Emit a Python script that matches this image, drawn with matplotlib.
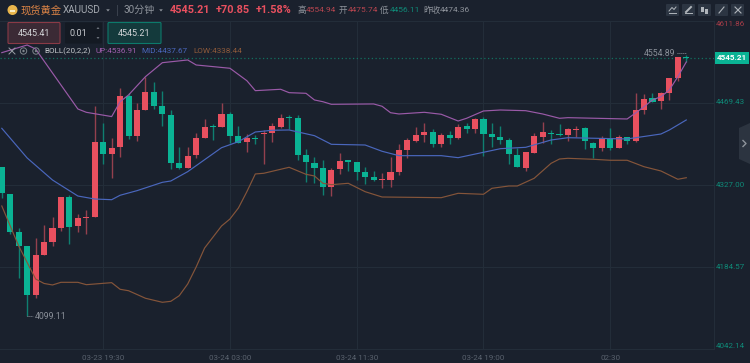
import matplotlib
matplotlib.use("Agg")
import numpy as np
import matplotlib.pyplot as plt
from matplotlib.patches import Circle, FancyBboxPatch, Polygon, Rectangle

plt.rcParams['font.family'] = ['Roboto', 'Noto Sans CJK SC', 'DejaVu Sans']

# candles, 30 min each, oldest first
opens = [4356.9,4310.5,4244.5,4219.7,4135.6,4204.0,4226.6,4251.5,4304.8,4254.9,
         4268.0,4270.0,4401.4,4380.0,4391.6,4480.7,4410.7,4455.9,4487.7,4463.9,
         4447.7,4364.9,4355.7,4378.3,4407.3,4428.1,4427.4,4450.0,4411.3,4400.3,
         4408.3,4414.7,4416.0,4427.4,4444.3,4442.5,4378.3,4364.9,4355.7,4323.2,
         4353.4,4367.8,4366.1,4348.2,4340.1,4334.8,4335.4,4348.2,4387.5,4402.1,
         4413.5,4418.2,4396.8,4413.5,4407.8,4428.6,4422.9,4440.3,4414.7,4409.0,
         4403.8,4378.3,4355.7,4382.3,4410.1,4416.0,4414.7,4412.5,4421.7,4424.6,
         4399.1,4389.9,4407.8,4389.9,4409.0,4402.1,4456.4,4476.8,4472.6,4486.5,
         4512.0,4548.0]
closes = [4311.7,4245.0,4220.7,4135.6,4204.6,4227.1,4251.5,4304.8,4253.7,4269.4,
          4269.4,4400.3,4380.0,4390.9,4480.7,4411.3,4455.9,4487.7,4463.9,4449.5,
          4364.9,4355.7,4376.0,4407.3,4427.4,4426.4,4450.0,4411.8,4399.6,4408.3,
          4406.1,4416.0,4428.6,4443.1,4442.5,4378.3,4366.6,4356.2,4323.2,4352.2,
          4367.3,4366.6,4348.2,4340.1,4334.8,4336.1,4348.2,4387.5,4403.8,4413.5,
          4418.2,4397.9,4413.5,4407.8,4427.4,4424.0,4440.3,4414.7,4409.0,4403.8,
          4380.0,4357.9,4383.0,4410.7,4417.7,4414.2,4412.5,4422.9,4422.9,4402.1,
          4390.4,4407.8,4390.9,4409.0,4402.1,4456.9,4476.1,4470.8,4486.5,4512.0,
          4549.0,4546.2]
highs = [4356.9,4310.5,4250.9,4219.7,4233.6,4256.7,4270.6,4304.8,4308.8,4275.8,
         4282.7,4463.9,4434.4,4407.3,4494.6,4486.5,4469.1,4513.2,4505.6,4488.9,
         4456.4,4391.6,4392.7,4416.0,4440.3,4432.1,4469.1,4452.4,4428.6,4414.7,
         4413.0,4421.7,4434.4,4449.5,4447.2,4447.2,4388.7,4374.3,4369.6,4355.2,
         4381.2,4369.6,4366.1,4357.9,4350.0,4346.5,4375.3,4397.4,4407.3,4426.4,
         4434.4,4422.9,4416.0,4420.5,4432.1,4434.4,4443.1,4443.8,4433.3,4428.6,
         4407.3,4389.9,4383.0,4416.0,4435.6,4421.7,4432.1,4425.7,4428.6,4427.4,
         4401.4,4411.3,4425.2,4413.0,4410.1,4485.4,4483.7,4486.5,4488.2,4512.0,
         4549.0,4552.0]
lows = [4304.1,4241.0,4164.1,4099.1,4129.4,4204.0,4220.2,4246.8,4224.2,4245.0,
        4241.0,4270.0,4362.6,4337.8,4375.3,4406.1,4403.1,4455.9,4458.2,4428.6,
        4353.4,4353.4,4355.7,4372.5,4407.3,4403.8,4427.4,4398.6,4398.6,4384.0,
        4397.9,4362.6,4400.3,4425.7,4423.4,4369.6,4330.8,4330.2,4308.3,4307.0,
        4345.3,4351.0,4334.8,4327.9,4333.6,4320.4,4322.2,4343.5,4373.6,4401.4,
        4401.4,4392.2,4392.7,4396.8,4406.1,4416.5,4416.0,4376.5,4392.7,4396.8,
        4362.6,4357.9,4351.0,4382.3,4399.6,4397.4,4411.3,4403.1,4410.1,4388.7,
        4373.6,4385.7,4386.4,4389.9,4397.4,4400.8,4449.5,4470.8,4458.2,4473.8,
        4507.3,4540.0]

# BOLL bands, read at the bends of each line
up_idx = [0,3,4,5,9,10,13,14,15,17,19,22,23,27,29,30,33,34,36,37,38,39,44,45,46,47,50,
          52,54,55,57,59,62,64,66,67,74,75,76,77,78,79,80,81]
up_val = [4556.0,4569.3,4562.4,4541.5,4458.2,4452.4,4445.0,4470.8,4482.5,4514.3,4538.6,
          4543.3,4534.6,4528.9,4507.3,4490.0,4492.4,4486.5,4485.4,4473.8,4470.8,4466.3,
          4466.9,4462.9,4451.7,4449.5,4452.4,4449.0,4437.3,4442.0,4454.7,4456.4,4455.2,
          4449.5,4442.0,4443.1,4440.8,4451.2,4462.2,4473.8,4479.5,4491.2,4514.3,4539.8]
mid_idx = [0,3,6,9,11,13,14,16,19,20,22,26,28,30,32,34,37,39,43,45,47,52,54,59,62,65,67,
           74,78,79,81]
mid_val = [4424.6,4373.1,4334.8,4307.0,4301.8,4300.6,4308.3,4316.3,4330.8,4333.1,4349.3,
           4390.9,4401.4,4418.2,4421.2,4421.7,4411.8,4396.8,4395.6,4384.7,4377.1,4377.1,
           4373.6,4389.2,4391.6,4404.3,4408.3,4406.1,4414.7,4421.7,4439.1]
low_idx = [0,2,4,5,6,7,9,10,13,14,15,17,19,20,21,22,23,24,26,27,28,29,30,31,34,36,37,38,
           39,41,43,45,52,54,57,58,60,61,63,65,66,67,70,72,74,76,78,80,81]
low_val = [4289.7,4220.2,4162.9,4155.1,4152.5,4157.1,4157.1,4153.0,4156.5,4145.0,4142.5,
           4129.4,4122.4,4124.1,4133.9,4154.2,4183.7,4216.7,4254.9,4267.1,4286.2,4314.5,
           4345.3,4346.5,4356.9,4344.7,4341.8,4329.1,4326.7,4329.1,4314.5,4305.3,4304.1,
           4311.7,4310.0,4320.4,4324.4,4324.4,4337.8,4363.8,4371.3,4372.5,4370.8,4369.1,
           4369.1,4357.9,4350.5,4336.1,4338.8]

y_ticks = [4042.14, 4184.57, 4327.00, 4469.43, 4611.86]
x_tick_pos = [12, 27, 42, 57, 72]
x_tick_labels = ['03-23 19:30', '03-24 03:00', '03-24 11:30', '03-24 19:00', '02:30']

BG = '#1a212d'
GRID = '#232d39'
RED = '#e8505f'
GREEN = '#0ab394'
PINK = '#9a5aa8'
BLUE = '#4a67bd'
BROWN = '#85553a'

fig = plt.figure(figsize=(7.5, 3.63), dpi=100, facecolor=BG)
ax = fig.add_axes([0, 14.5/363, 714/750, 328/363], facecolor=BG)

x = np.arange(len(opens))
o = np.array(opens)
c = np.array(closes)
colors = [RED if c[i] >= o[i] else GREEN for i in x]
wick_colors = ['#94404e' if c[i] >= o[i] else '#0f7f70' for i in x]

ax.vlines(x, lows, highs, colors=wick_colors, linewidth=1.0, zorder=2)
heights = np.maximum(np.abs(c - o), 2.2)
ax.bar(x, heights, bottom=np.minimum(o, c), width=0.72, color=colors, linewidth=0, zorder=3)

ax.plot(up_idx, up_val, color=PINK, lw=0.85, zorder=4)
ax.plot(mid_idx, mid_val, color=BLUE, lw=0.85, zorder=4)
ax.plot(low_idx, low_val, color=BROWN, lw=0.85, zorder=4)

# last price line
ax.axhline(closes[-1], color='#11705f', lw=0.9, ls=(0, (1, 2)), zorder=1)

# high / low marks
ax.plot([3, 3.75], [lows[3], lows[3]], color='#8a9099', lw=0.7, ls=(0, (1, 1)))
ax.text(3.85, lows[3] - 2, '4099.11', color='#8a9099', fontsize=6.3, va='center', ha='left')
ax.plot([79.9, 81], [4554.89, 4554.89], color='#8a9099', lw=0.7, ls=(0, (1, 1)))
ax.text(79.7, 4554.89, '4554.89', color='#8a9099', fontsize=6.3, va='center', ha='right')

ax.set_xlim(-0.213, 84.28)
ax.set_ylim(4042.14, 4611.86)
ax.set_xticks(x_tick_pos)
ax.set_xticklabels(x_tick_labels)
ax.set_yticks(y_ticks)
ax.set_yticklabels(['%.2f' % v for v in y_ticks])
ax.yaxis.tick_right()
ax.grid(True, color=GRID, lw=0.8, zorder=0)
ax.set_axisbelow(True)
ax.tick_params(axis='x', length=0, pad=4.5, labelsize=5.8, labelcolor='#59616d')
ax.tick_params(axis='y', length=0, pad=1.5, labelsize=5.8)
for lab, col, va in zip(ax.get_yticklabels(),
                        ['#0f8a78', '#0f8a78', '#0f8a78', '#0f8a78', '#a43c48'],
                        ['bottom', 'center', 'center', 'center', 'top']):
    lab.set_color(col)
    lab.set_va(va)
for name in ['top', 'left']:
    ax.spines[name].set_visible(False)
for name in ['right', 'bottom']:
    ax.spines[name].set_color(GRID)

# window chrome, in pixels
ui = fig.add_axes([0, 0, 1, 1], facecolor='none', zorder=5)
ui.set_xlim(0, 750)
ui.set_ylim(363, 0)
ui.axis('off')

ui.add_patch(Circle((12.5, 10), 5, color='#e9b64c', lw=0))
ui.add_patch(Rectangle((9.8, 9.5), 5.4, 2, color='#fbeec4', lw=0))
head = [(21, '现货黄金', '#dc8446', 7.4, 'normal'), (63, 'XAUUSD', '#a4a9b0', 7.2, 'normal'),
        (123, '30分钟', '#8f949c', 7.2, 'normal'), (170, '4545.21', RED, 7.8, 'bold'),
        (216, '+70.85', RED, 7.8, 'bold'), (256, '+1.58%', RED, 7.8, 'bold'),
        (297, '高', '#8f949c', 6.2, 'normal'), (306, '4554.94', '#b5454f', 6.0, 'normal'),
        (339, '开', '#8f949c', 6.2, 'normal'), (348, '4475.74', '#b5454f', 6.0, 'normal'),
        (380, '低', '#8f949c', 6.2, 'normal'), (390, '4456.11', '#0f8a78', 6.0, 'normal'),
        (423, '昨收', '#8f949c', 6.2, 'normal'), (440, '4474.36', '#8f949c', 6.0, 'normal')]
for px, txt, col, size, weight in head:
    ui.text(px, 10.3, txt, color=col, fontsize=size, fontweight=weight, va='center', ha='left')
ui.plot([117, 117], [5, 15], color='#3a424e', lw=0.7)
for px in [108, 161]:
    ui.add_patch(Polygon([(px-1.8, 9.3), (px+1.8, 9.3), (px, 11.5)], color='#8f949c', lw=0))

# toolbar buttons
for px in [666, 682, 698, 715, 731]:
    ui.add_patch(FancyBboxPatch((px+1, 5), 11, 10, boxstyle='round,pad=1', color='#2c3542', lw=0))
ui.plot([669, 676], [13, 13], color='#b0b5bb', lw=0.7)
ui.plot([669, 672, 674, 676], [11, 7.5, 9.5, 7], color='#b0b5bb', lw=0.7)
ui.plot([685, 692], [13, 13], color='#b0b5bb', lw=0.7)
ui.plot([686, 691], [12, 7], color='#b0b5bb', lw=1.4)
ui.add_patch(Rectangle((701, 7), 2.6, 5, color='#b0b5bb', lw=0))
ui.add_patch(Rectangle((705, 8.5), 2.6, 5, color='#b0b5bb', lw=0))
ui.plot([719, 724], [13, 7], color='#b0b5bb', lw=0.8)
ui.plot([735, 741], [7, 13], color='#b0b5bb', lw=0.8)
ui.plot([735, 741], [13, 7], color='#b0b5bb', lw=0.8)

# order buttons
ui.add_patch(FancyBboxPatch((9, 23.5), 50, 19, boxstyle='round,pad=1', fc='#3b2a35', ec='#8a3a46', lw=0.8))
ui.add_patch(FancyBboxPatch((66, 23.5), 35, 19, boxstyle='round,pad=1', fc='#141a23', ec='none'))
ui.add_patch(FancyBboxPatch((109, 23.5), 51, 19, boxstyle='round,pad=1', fc='#143a3c', ec='#0c7a6b', lw=0.8))
ui.text(33.5, 33, '4545.41', color='#d4d6d9', fontsize=6.5, va='center', ha='center')
ui.text(78, 33, '0.01', color='#c8cbd0', fontsize=6.5, va='center', ha='center')
ui.text(134, 33, '4545.21', color='#d4d6d9', fontsize=6.5, va='center', ha='center')
ui.add_patch(Polygon([(96.5, 29), (99.5, 29), (98, 27)], color='#6c727b', lw=0))
ui.add_patch(Polygon([(96.5, 37), (99.5, 37), (98, 39)], color='#6c727b', lw=0))

# indicator legend
ui.plot([9, 15], [48, 54], color='#9a9fa6', lw=0.7)
ui.plot([9, 15], [54, 48], color='#9a9fa6', lw=0.7)
for px in [23.5, 36]:
    ui.add_patch(Circle((px, 51), 3.2, fc='none', ec='#7f858d', lw=0.7))
    ui.add_patch(Circle((px, 51), 1.2, color='#7f858d', lw=0))
legend = [(44, 'BOLL(20,2,2)', '#c3c6ca'), (95, 'UP:4536.91', '#a25fb0'),
          (141, 'MID:4437.67', '#4a67bd'), (193, 'LOW:4338.44', '#8f5a3a')]
for px, txt, col in legend:
    ui.text(px, 51.3, txt, color=col, fontsize=5.9, va='center', ha='left')

# current price tag
ui.add_patch(Rectangle((714.5, 52), 34.5, 11.5, color=GREEN, lw=0))
ui.text(731.8, 57.9, '4545.21', color='white', fontsize=5.9, fontweight='bold', va='center', ha='center')

# side handle
ui.add_patch(Polygon([(739, 128), (750, 123), (750, 164), (739, 159)], color='#2c3440', lw=0))
ui.plot([743, 746, 743], [140.5, 143.5, 146.5], color='#8f949c', lw=1.0)

fig.savefig('out.png', dpi=100, facecolor=BG)
